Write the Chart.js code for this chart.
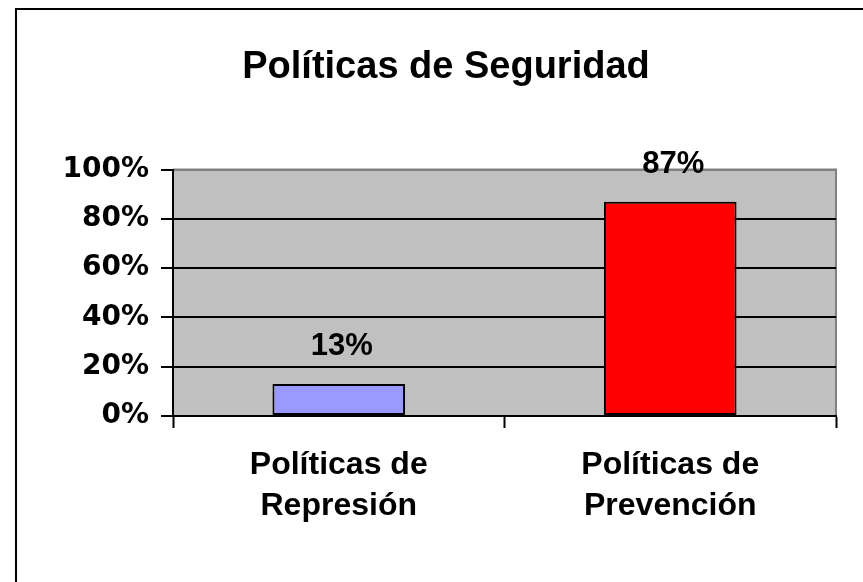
<!DOCTYPE html>
<html>
<head>
<meta charset="utf-8">
<script src="https://cdn.jsdelivr.net/npm/chart.js@4"></script>
<style>
  html, body { margin: 0; padding: 0; background: #fff; }
  canvas { display: block; }
</style>
</head>
<body>
<canvas id="chart" width="863" height="582"></canvas>
<script>
const categories = [['Políticas de', 'Represión'], ['Políticas de', 'Prevención']];
const percentValues = [13, 87];
const barColors = ['#9999FF', '#FF0000'];
const titleText = 'Políticas de Seguridad';

const ARIAL = '"Liberation Sans", Arial, sans-serif';
const WIDE = '"DejaVu Sans", Verdana, sans-serif';

// gray plot area + outer frame, drawn under everything else
const plotBackground = {
  id: 'plotBackground',
  beforeDraw(chart) {
    const { ctx, chartArea: a } = chart;
    ctx.save();
    ctx.fillStyle = '#fff';
    ctx.fillRect(0, 0, chart.width, chart.height);
    ctx.strokeStyle = '#000';
    ctx.lineWidth = 2;
    ctx.beginPath();
    ctx.moveTo(16, chart.height + 5);
    ctx.lineTo(16, 9);
    ctx.lineTo(chart.width + 5, 9);
    ctx.stroke();
    ctx.fillStyle = '#C0C0C0';
    ctx.fillRect(a.left, a.top, a.right - a.left, a.bottom - a.top);
    ctx.strokeStyle = '#808080';
    ctx.beginPath();
    ctx.moveTo(a.left, a.top);
    ctx.lineTo(a.right, a.top);
    ctx.lineTo(a.right, a.bottom);
    ctx.stroke();
    ctx.restore();
  }
};

// percentage above each bar
const valueLabels = {
  id: 'valueLabels',
  afterDatasetsDraw(chart) {
    const { ctx } = chart;
    const meta = chart.getDatasetMeta(0);
    ctx.save();
    ctx.font = 'bold 31px ' + ARIAL;
    ctx.fillStyle = '#000';
    ctx.textAlign = 'center';
    ctx.textBaseline = 'alphabetic';
    meta.data.forEach((bar, i) => {
      ctx.fillText(percentValues[i] + '%', bar.x + 3, bar.y - 29);
    });
    ctx.restore();
  }
};

new Chart(document.getElementById('chart'), {
  type: 'bar',
  data: {
    labels: categories,
    datasets: [{
      data: percentValues,
      backgroundColor: barColors,
      borderColor: '#000',
      borderWidth: 2,
      borderSkipped: false,
      barPercentage: 0.4,
      categoryPercentage: 1.0
    }]
  },
  options: {
    responsive: false,
    animation: false,
    devicePixelRatio: 1,
    layout: { padding: { left: 56, right: 27, top: 8, bottom: 55 } },
    plugins: {
      legend: { display: false },
      tooltip: { enabled: false },
      title: {
        display: true,
        text: titleText,
        color: '#000',
        font: { family: ARIAL, size: 38, weight: 'bold' },
        padding: { top: 37, bottom: 79 }
      }
    },
    scales: {
      x: {
        offset: true,
        grid: {
          display: true,
          offset: true,
          drawOnChartArea: false,
          tickLength: 12,
          tickColor: '#000',
          tickWidth: 2
        },
        border: { display: true, color: '#000', width: 2 },
        ticks: {
          color: '#000',
          maxRotation: 0,
          padding: 17,
          font: { family: ARIAL, size: 32, weight: 'bold', lineHeight: 1.28 }
        },
        afterFit(scale) { scale.height = 111; }
      },
      y: {
        min: 0,
        max: 100,
        grid: {
          color: (c) => (c.tick && c.tick.value === 100 ? '#808080' : '#000'),
          lineWidth: 2,
          tickLength: 12,
          tickColor: '#000',
          tickWidth: 2
        },
        border: { display: true, color: '#000', width: 2 },
        ticks: {
          stepSize: 20,
          color: '#000',
          padding: 12,
          font: { family: WIDE, size: 28, weight: 'bold' },
          callback: (v) => v + '%'
        },
        afterFit(scale) { scale.width = 117; }
      }
    }
  },
  plugins: [plotBackground, valueLabels]
});
</script>
</body>
</html>
